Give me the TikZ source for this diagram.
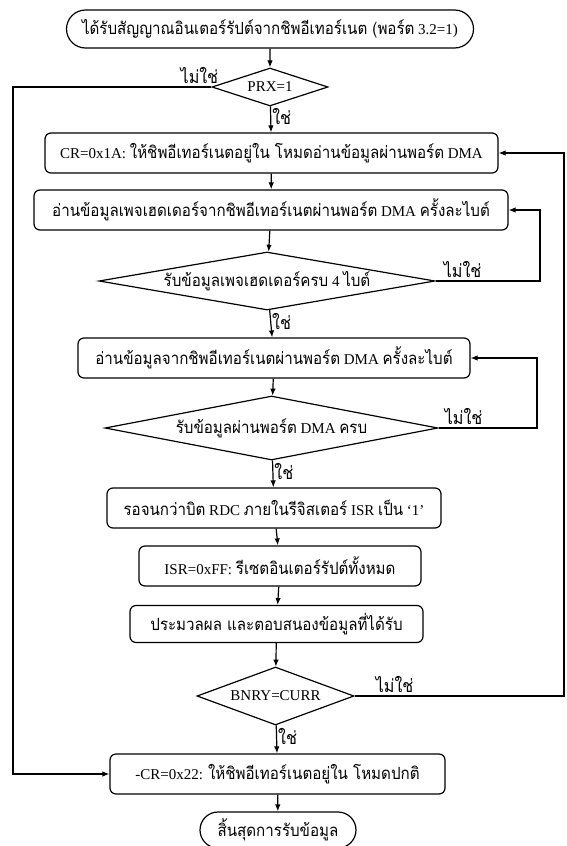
\documentclass[tikz,border=0pt]{standalone}
\usepackage{fontspec}
\setmainfont{Liberation Serif}
\newfontfamily\thaifont[Script=Thai, Scale=1.12, FakeStretch=0.9]{Loma}
\newcommand{\T}[1]{{\thaifont #1}}
\usetikzlibrary{shapes.geometric,shapes.misc,arrows.meta}

\tikzset{
  base/.style={draw, line width=1.2pt, inner sep=0pt, font=\fontsize{15}{18}\selectfont},
  procbox/.style={base, rectangle, rounded corners=6pt, minimum height=40pt},
  terminal/.style={base, rounded rectangle, minimum height=38pt},
  decision/.style={base, diamond},
  lbl/.style={inner sep=1pt, font=\fontsize{16}{18}\selectfont\thaifont},
  arr/.style={line width=1.2pt, -{Latex[length=7pt,width=5.5pt]}}
}

\begin{document}
\begin{tikzpicture}[x=1pt,y=-1pt]
\useasboundingbox (0,0) rectangle (567,846);

% flow nodes
\node[terminal, minimum width=407pt] (start) at (270,29)
  {\T{ได้รับสัญญาณอินเตอร์รัปต์จากชิพอีเทอร์เนต (พอร์ต} 3.2=1)};
\node[decision, aspect=3.05, minimum width=116pt, minimum height=38pt] (prx) at (270,87) {PRX=1};
\node[procbox, minimum width=453pt] (b1) at (271.5,153)
  {CR=0x1A: \T{ให้ชิพอีเทอร์เนตอยู่ใน โหมดอ่านข้อมูลผ่านพอร์ต} DMA};
\node[procbox, minimum width=474pt] (b2) at (271,210)
  {\T{อ่านข้อมูลเพจเฮดเดอร์จากชิพอีเทอร์เนตผ่านพอร์ต} DMA \T{ครั้งละไบต์}};
\node[decision, aspect=5.8, minimum width=336pt, minimum height=58pt] (d2) at (267,281)
  {\T{รับข้อมูลเพจเฮดเดอร์ครบ} 4 \T{ไบต์}};
\node[procbox, minimum width=392pt] (b3) at (274,358)
  {\T{อ่านข้อมูลจากชิพอีเทอร์เนตผ่านพอร์ต} DMA \T{ครั้งละไบต์}};
\node[decision, aspect=5.2, minimum width=333pt, minimum height=64pt] (d3) at (271.5,428)
  {\T{รับข้อมูลผ่านพอร์ต} DMA \T{ครบ}};
\node[procbox, minimum width=334pt] (b4) at (274,508)
  {\T{รอจนกว่าบิต} RDC \T{ภายในรีจิสเตอร์} ISR \T{เป็น} `1'};
\node[procbox, minimum width=282pt] (b5) at (280,566)
  {ISR=0xFF: \T{รีเซตอินเตอร์รัปต์ทั้งหมด}};
\node[procbox, minimum width=293pt, minimum height=37pt] (b6) at (276.5,624)
  {\T{ประมวลผล และตอบสนองข้อมูลที่ได้รับ}};
\node[decision, aspect=2.7, minimum width=157pt, minimum height=58pt] (d4) at (275.5,696)
  {BNRY=CURR};
\node[procbox, minimum width=335pt] (b7) at (277.5,774)
  {-CR=0x22: \T{ให้ชิพอีเทอร์เนตอยู่ใน โหมดปกติ}};
\node[terminal, minimum width=156pt, minimum height=36pt] (stop) at (278,830)
  {\T{สิ้นสุดการรับข้อมูล}};

% corner points of the loop-back lines
\coordinate (lft) at (13,87);
\coordinate (rgt) at (564,153);
\coordinate (r2) at (540,210);
\coordinate (r3) at (537,358);

% main column
\draw[arr] (start) -- (prx);
\draw[arr] (prx) -- node[lbl, pos=0.4, right] {ใช่} (b1);
\draw[arr] (b1) -- (b2);
\draw[arr] (b2) -- (d2);
\draw[arr] (d2) -- node[lbl, pos=0.4, right] {ใช่} (b3);
\draw[arr] (b3) -- (d3);
\draw[arr] (d3) -- node[lbl, pos=0.4, right] {ใช่} (b4);
\draw[arr] (b4) -- (b5);
\draw[arr] (b5) -- (b6);
\draw[arr] (b6) -- (d4);
\draw[arr] (d4) -- node[lbl, pos=0.4, right] {ใช่} (b7);
\draw[arr] (b7) -- (stop);

% "no" branches
\draw[arr] (prx.west) -- (lft) |- (b7.west);
\node[lbl, anchor=south east] at ([xshift=8pt,yshift=2pt]prx.west) {ไม่ใช่};
\draw[arr] (d2.east) -| (r2) -- (b2.east);
\node[lbl, anchor=south west] at ([xshift=7pt,yshift=2pt]d2.east) {ไม่ใช่};
\draw[arr] (d3.east) -| (r3) -- (b3.east);
\node[lbl, anchor=south west] at ([xshift=5pt,yshift=2pt]d3.east) {ไม่ใช่};
\draw[arr] (d4.east) -| (rgt) -- (b1.east);
\node[lbl, anchor=south west] at ([xshift=20pt,yshift=2pt]d4.east) {ไม่ใช่};
\end{tikzpicture}
\end{document}
